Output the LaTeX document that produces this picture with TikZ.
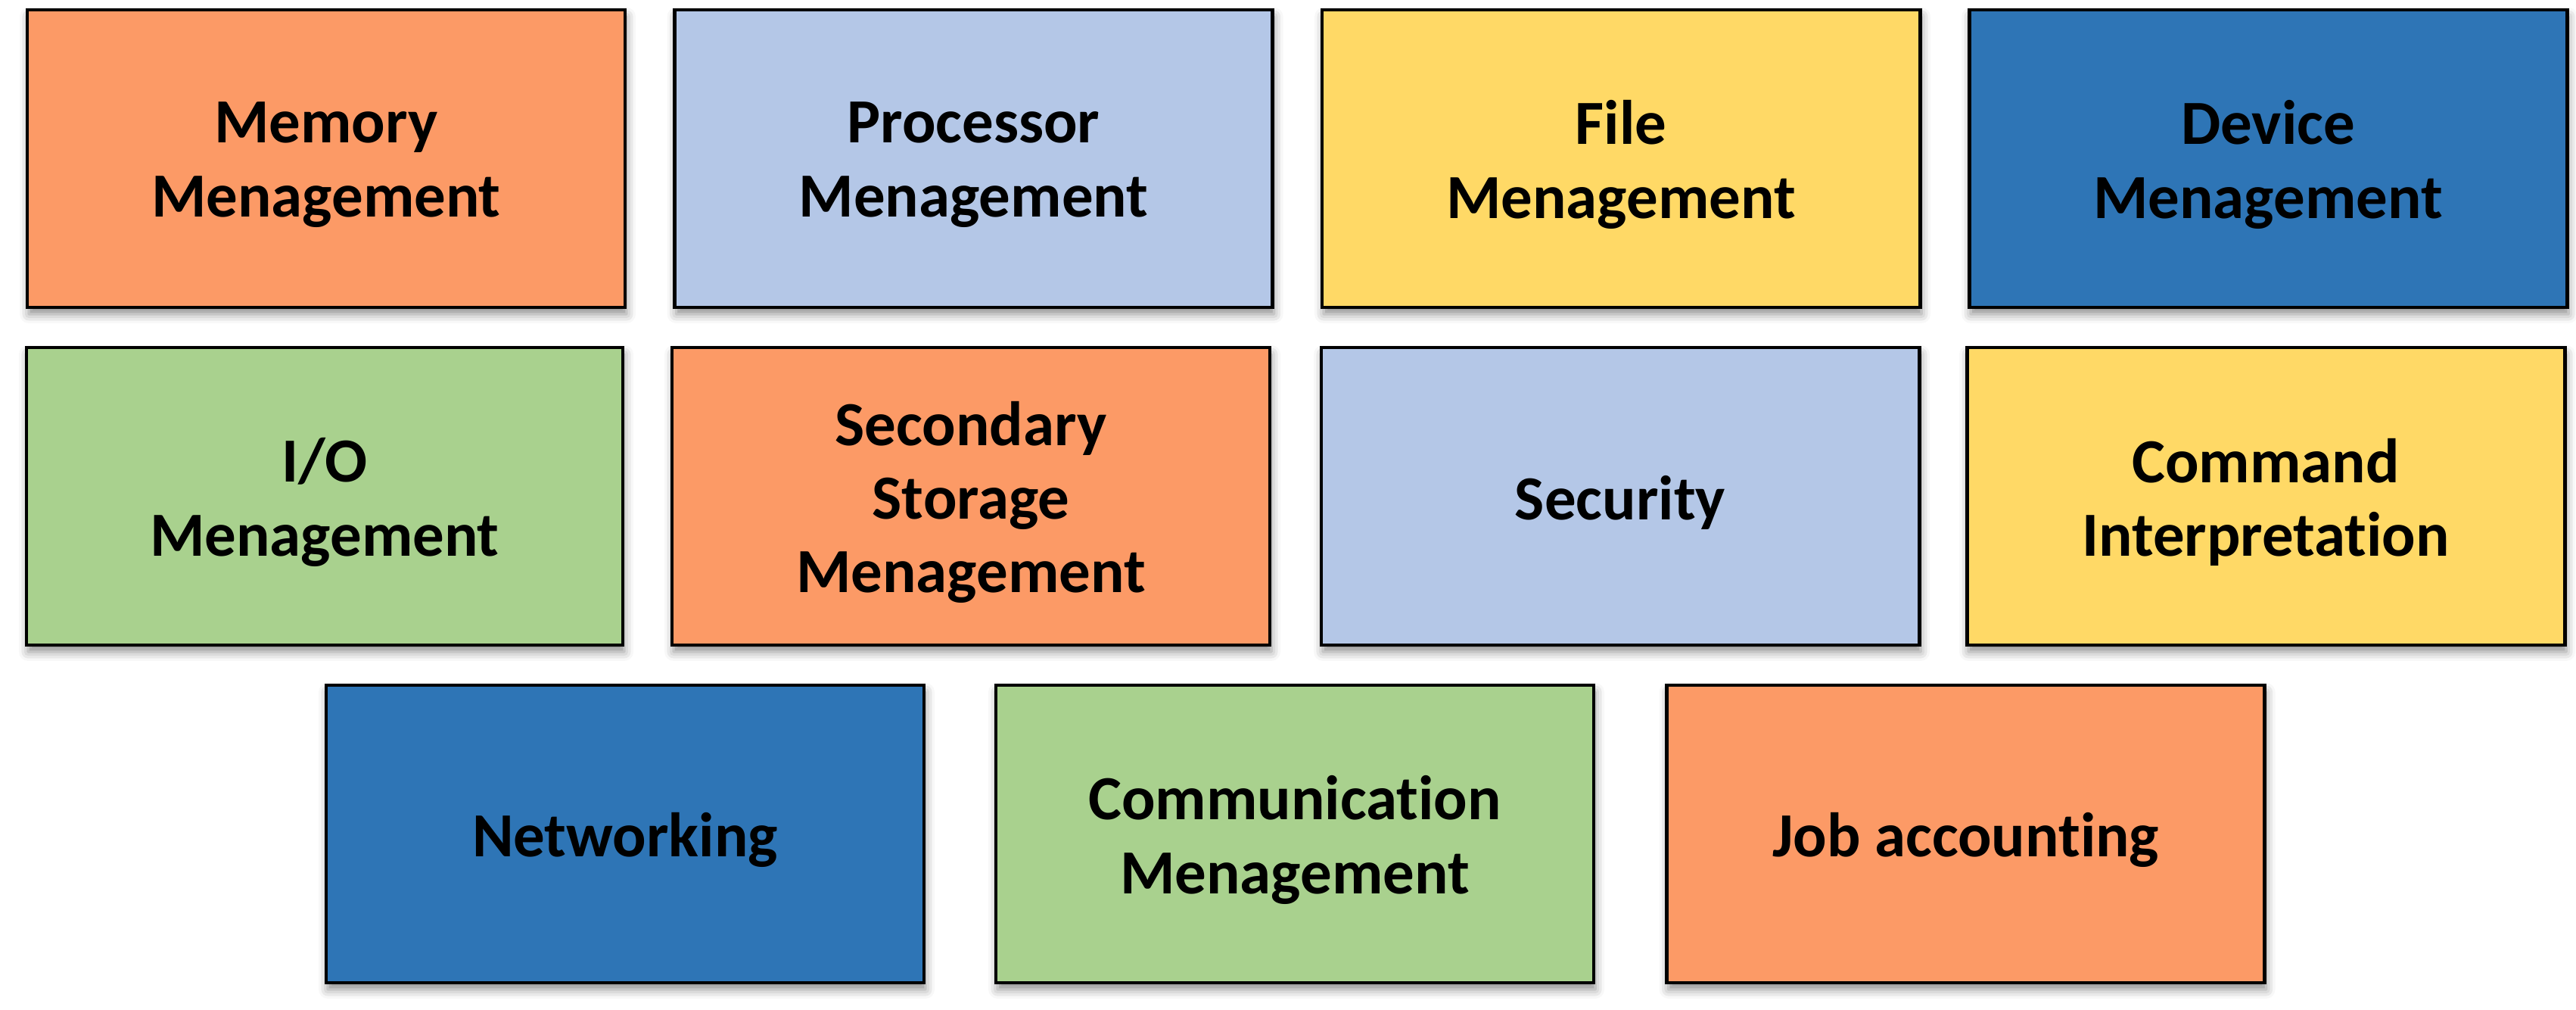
\documentclass[tikz,border=0pt]{standalone}
\usepackage{fontspec}
\setmainfont{Carlito}[Ligatures={NoCommon}]
\usetikzlibrary{shadows.blur}
\definecolor{corange}{HTML}{FC9A66}
\definecolor{clblue}{HTML}{B4C7E7}
\definecolor{cyellow}{HTML}{FFD966}
\definecolor{cblue}{HTML}{2E75B6}
\definecolor{cgreen}{HTML}{A9D18E}
\tikzset{
  card/.style={draw=black, line width=1.4pt, rectangle, minimum width=7.9cm,
    minimum height=3.93cm, inner sep=0pt,
    blur shadow={shadow xshift=0.02cm, shadow yshift=-0.09cm, shadow blur radius=0.12cm, shadow opacity=45}},
  cardtext/.style={align=center, inner sep=0pt, text=black,
    font=\bfseries\fontsize{23.6}{27.7}\selectfont}
}
\begin{document}
\begin{tikzpicture}
\useasboundingbox (0,0) rectangle (34.04,13.34);
% row 1
\node[card, fill=corange] (mem) at (4.31,11.245) {};
\node[card, fill=clblue] (proc) at (12.865,11.245) {};
\node[card, fill=cyellow] (file) at (21.42,11.245) {};
\node[card, fill=cblue] (dev) at (29.97,11.245) {};
% row 2
\node[card, fill=cgreen, minimum width=7.88cm] (io) at (4.29,6.785) {};
\node[card, fill=corange] (sec) at (12.83,6.785) {};
\node[card, fill=clblue] (secu) at (21.41,6.785) {};
\node[card, fill=cyellow] (cmd) at (29.94,6.785) {};
% row 3
\node[card, fill=cblue] (net) at (8.26,2.325) {};
\node[card, fill=cgreen] (comm) at (17.11,2.325) {};
\node[card, fill=corange] (job) at (25.975,2.325) {};
% texts
\node[cardtext] (memT) at ([yshift=-0.08cm]mem.center) {Memory\\Menagement};
\node[cardtext] (procT) at ([yshift=-0.08cm]proc.center) {Processor\\Menagement};
\node[cardtext] (fileT) at ([yshift=-0.08cm]file.center) {File\\Menagement};
\node[cardtext] (devT) at ([yshift=-0.08cm]dev.center) {Device\\Menagement};
\node[cardtext] (ioT) at ([yshift=-0.08cm]io.center) {I/O\\Menagement};
\node[cardtext] (secT) at ([yshift=-0.08cm]sec.center) {Secondary\\Storage\\Menagement};
\node[cardtext] (secuT) at ([yshift=-0.08cm]secu.center) {Security};
\node[cardtext] (cmdT) at ([yshift=-0.08cm]cmd.center) {Command\\Interpretation};
\node[cardtext] (netT) at ([yshift=-0.08cm]net.center) {Networking};
\node[cardtext] (commT) at ([yshift=-0.08cm]comm.center) {Communication\\Menagement};
\node[cardtext] (jobT) at ([yshift=-0.08cm]job.center) {Job accounting};
\end{tikzpicture}
\end{document}
